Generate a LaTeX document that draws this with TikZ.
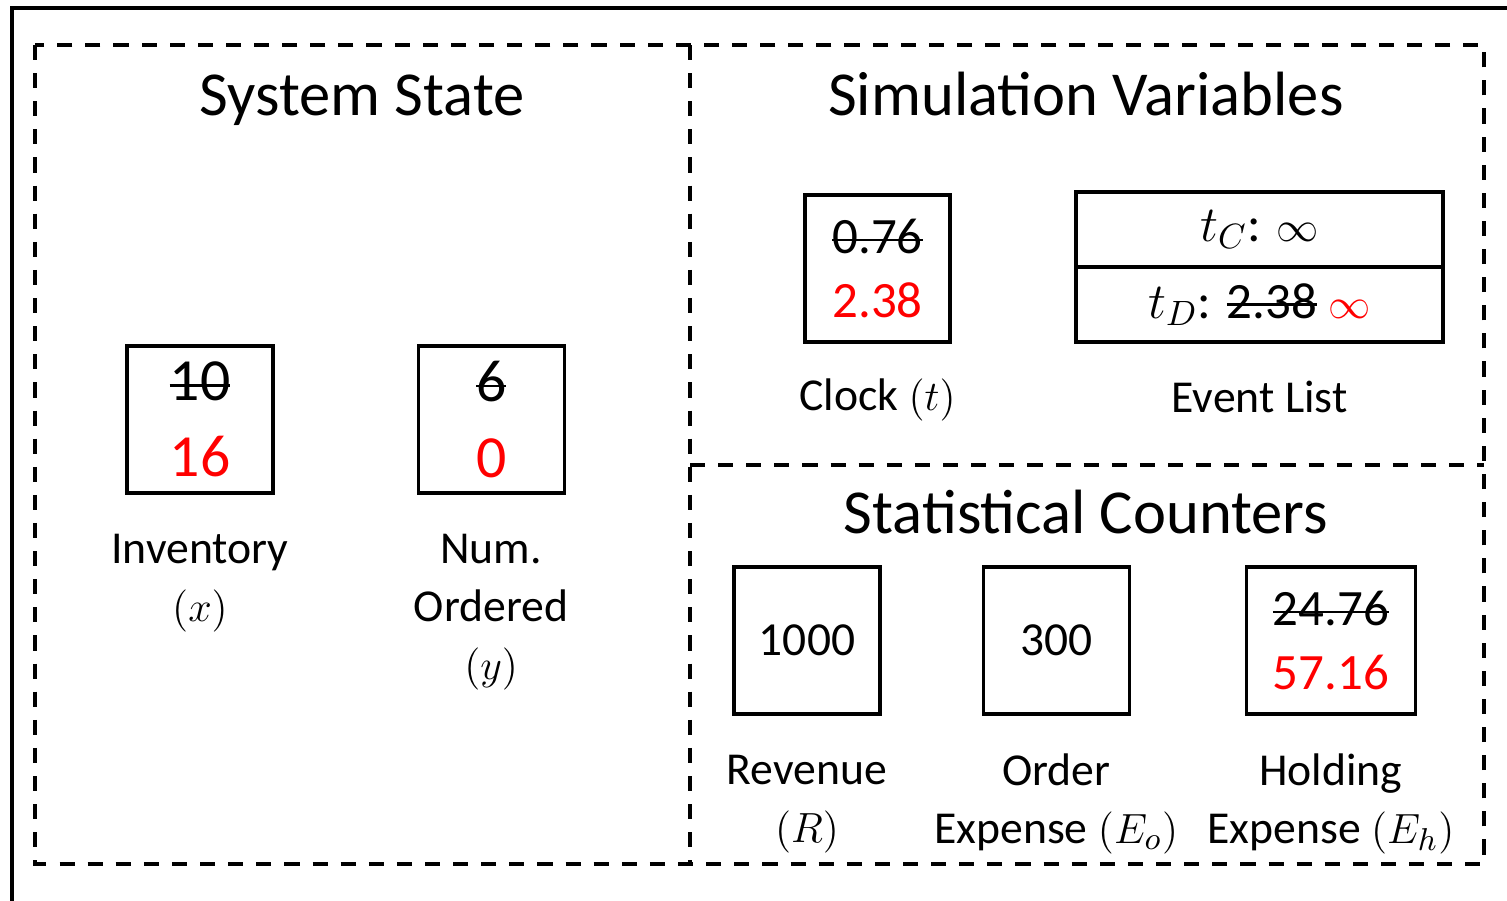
\documentclass[tikz,border=0pt]{standalone}
\usepackage{fontspec}
\setmainfont{Carlito}
\usepackage{xcolor}
\usepackage{tikz}
\usetikzlibrary{positioning}
\tikzset{
  outline/.style={draw=black, line width=0.9pt},
  panel/.style={draw=black, line width=0.95pt, dash pattern=on 4.3pt off 3.7pt},
  paneltitle/.style={anchor=base, inner sep=0pt, font=\fontsize{17.8}{21}\selectfont},
  bigbox/.style={rectangle, draw=black, line width=0.9pt, minimum width=1.46cm, minimum height=1.47cm, align=center, inner sep=0pt, font=\fontsize{17}{21.5}\selectfont},
  valbox/.style={rectangle, draw=black, line width=0.9pt, minimum width=1.46cm, minimum height=1.47cm, align=center, inner sep=0pt, font=\fontsize{14.5}{18.2}\selectfont},
  evslot/.style={rectangle, draw=black, line width=0.9pt, minimum width=3.67cm, minimum height=0.75cm, inner sep=0pt, outer sep=0pt, font=\fontsize{14.5}{18}\selectfont},
  varname/.style={align=center, inner sep=0pt, font=\fontsize{13}{16.5}\selectfont}
}
\newsavebox{\strikebox}
\newcommand{\oldval}[1]{\sbox{\strikebox}{#1}\rlap{\rule[0.5ex]{\wd\strikebox}{0.75pt}}\usebox{\strikebox}}
\newcommand{\newval}[1]{\textcolor{red}{#1}}
\newcommand{\inftysm}{{\fontsize{12.5}{14}\selectfont$\infty$}}

\begin{document}
\begin{tikzpicture}
\useasboundingbox (0,0) rectangle (15.07,-9.00);
% outer frame and panels
\draw[outline] (0.12,-9.2) -- (0.12,-0.08) -- (15.2,-0.08);
\draw[panel] (0.35,-0.45) rectangle (14.84,-8.64);
\draw[panel] (6.90,-0.45) -- (6.90,-8.64);
\draw[panel] (6.90,-4.65) -- (14.84,-4.65);

\node[paneltitle] (tstate) at (3.62,-1.15) {System State};
\node[paneltitle] (tsim) at (10.86,-1.15) {Simulation Variables};
\node[paneltitle] (tstat) at (10.86,-5.33) {Statistical Counters};

% System state
\node[bigbox] (inv) at (2.00,-4.195) {\oldval{10}\\\newval{16}};
\node[bigbox, right=1.42cm of inv] (ord) {\oldval{6}\\\newval{0}};
\node[varname, below=0.39cm of inv] (invname) {Inventory\\$(x)$};
\node[varname, below=0.39cm of ord] (ordname) {Num.\\Ordered\\$(y)$};

% Simulation variables
\node[valbox, minimum width=1.45cm] (clk) at (8.775,-2.685) {\oldval{0.76}\\\newval{2.38}};
\node[evslot] (evc) at (12.595,-2.295) {$t_C$: \inftysm};
\node[evslot, below=0cm of evc] (evd) {$t_D$: \oldval{2.38} \newval{\inftysm}};
\node[varname, below=0.34cm of clk] (clkname) {Clock $(t)$};
\node[varname, below=0.38cm of evd] (evname) {Event List};

% Statistical counters
\node[valbox, font=\fontsize{13.5}{16}\selectfont] (rev) at (8.07,-6.405) {1000};
\node[valbox, font=\fontsize{13.5}{16}\selectfont, right=1.00cm of rev] (oexp) {300};
\node[valbox, minimum width=1.69cm, right=1.14cm of oexp] (hexp) {\oldval{24.76}\\\newval{57.16}};
\node[varname, below=0.39cm of rev] (revname) {Revenue\\$(R)$};
\node[varname, below=0.37cm of oexp] (oexpname) {Order\\Expense $(E_o)$};
\node[varname, below=0.37cm of hexp] (hexpname) {Holding\\Expense $(E_h)$};
\end{tikzpicture}
\end{document}
